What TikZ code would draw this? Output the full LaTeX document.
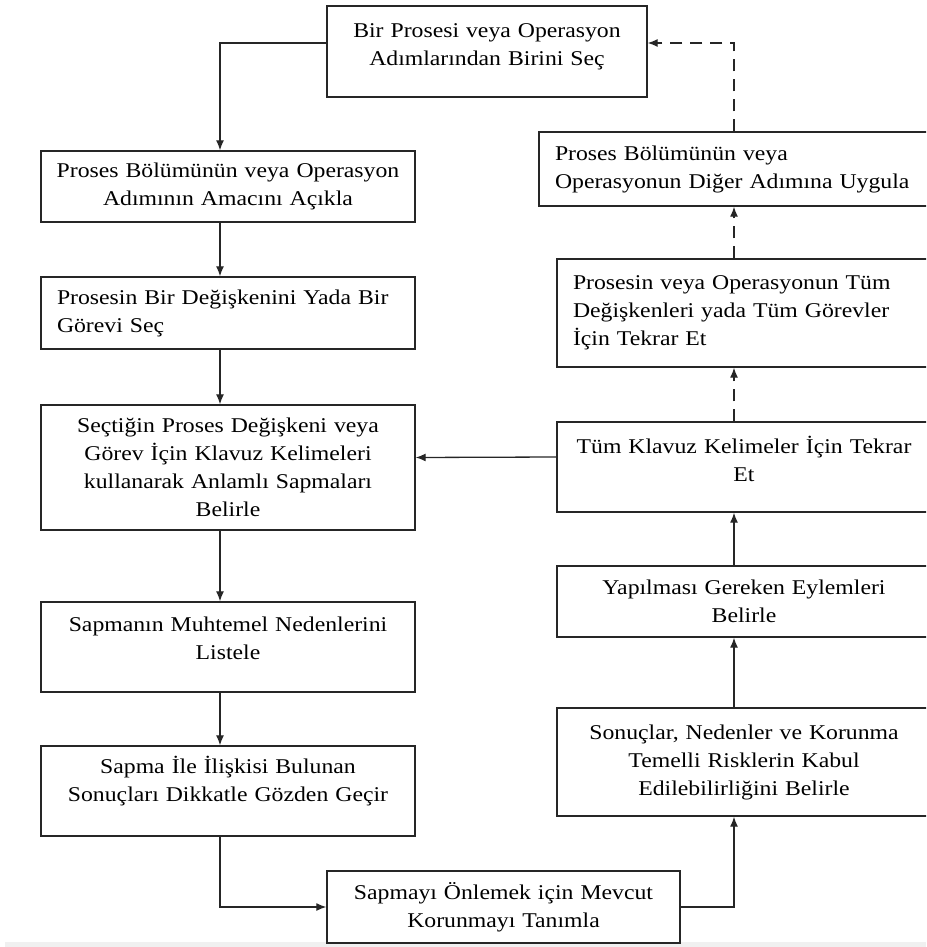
\documentclass[tikz,border=0pt]{standalone}
\usepackage{fontspec}
\setmainfont{Liberation Serif}[FakeStretch=1.13]
\usetikzlibrary{arrows.meta}
\newcommand{\padbelow}[1]{\\[#1]\mbox{}}

\begin{document}
\begin{tikzpicture}[x=1pt,y=-1pt,
  box/.style={draw=black!85, line width=1.4pt, inner xsep=16pt, inner ysep=0pt, font=\fontsize{21}{28}\selectfont, align=center},
  colbox/.style={box, inner xsep=8pt, text width=358pt},
  leftcolbox/.style={box, align=left, text width=342pt},
  flow/.style={draw=black!85, line width=1.3pt, -{Latex[length=10pt,width=8pt]}},
  flowdash/.style={flow, dash pattern=on 12pt off 8pt}]

\useasboundingbox (0,0) rectangle (926,947);
\clip (0,0) rectangle (926,947);
\fill[black!6] (5,942) rectangle (926,947);

% Boxes
\node[box, text width=288pt, minimum height=91pt] (n1) at (487,51.5) {Bir Prosesi veya Operasyon\\Adımlarından Birini Seç\padbelow{-15pt}};

\node[colbox, minimum height=71pt] (n2) at (228,186.5) {Proses Bölümünün veya Operasyon\\Adımının Amacını Açıkla};
\node[leftcolbox, minimum height=72pt] (n3) at (228,313) {Prosesin Bir Değişkenini Yada Bir\\Görevi Seç};
\node[colbox, minimum height=125pt] (n4) at (228,467.5) {Seçtiğin Proses Değişkeni veya\\Görev İçin Klavuz Kelimeleri\\kullanarak Anlamlı Sapmaları\\Belirle};
\node[colbox, minimum height=90pt] (n5) at (228,647) {Sapmanın Muhtemel Nedenlerini\\Listele\padbelow{-10pt}};
\node[colbox, minimum height=90pt] (n6) at (228,791) {Sapma İle İlişkisi Bulunan\\Sonuçları Dikkatle Gözden Geçir\padbelow{-4pt}};

\node[box, text width=321pt, minimum height=72pt] (n7) at (503.5,907) {Sapmayı Önlemek için Mevcut\\Korunmayı Tanımla};

\node[colbox, minimum height=108pt] (n8) at (744,762) {Sonuçlar, Nedenler ve Korunma\\Temelli Risklerin Kabul\\Edilebilirliğini Belirle};
\node[colbox, minimum height=71pt] (n9) at (744,601.5) {Yapılması Gereken Eylemleri\\Belirle};
\node[colbox, minimum height=90pt] (n10) at (744,467) {Tüm Klavuz Kelimeler İçin Tekrar\\Et\padbelow{-12pt}};
\node[leftcolbox, minimum height=108pt] (n11) at (744,313) {Prosesin veya Operasyonun Tüm\\Değişkenleri yada Tüm Görevler\\İçin Tekrar Et};
\node[box, text width=360pt, minimum height=74pt, align=left] (n12) at (735,169) {Proses Bölümünün veya\\Operasyonun Diğer Adımına Uygula};

%Arrows
\coordinate (lx) at (220,0);
\coordinate (rx) at (734,0);

\draw[flow] ([yshift=8.5pt]n1.west) -| (n2.north -| lx);
\draw[flow] (n2.south -| lx) -- (n3.north -| lx);
\draw[flow] (n3.south -| lx) -- (n4.north -| lx);
\draw[flow] (n4.south -| lx) -- (n5.north -| lx);
\draw[flow] (n5.south -| lx) -- (n6.north -| lx);
\draw[flow] (n6.south -| lx) |- (n7.west);
\draw[flow] (n7.east) -| (n8.south -| rx);
\draw[flow] (n8.north -| rx) -- (n9.south -| rx);
\draw[flow] (n9.north -| rx) -- (n10.south -| rx);
\draw[flow] ([yshift=10pt]n10.west) -- ([yshift=10pt]n4.east);

\draw[flowdash] (n10.north -| rx) -- (n11.south -| rx);
\draw[flowdash] (n11.north -| rx) -- (n12.south -| rx);
\draw[flowdash] (n12.north -| rx) |- ([yshift=8.5pt]n1.east);
\end{tikzpicture}
\end{document}
